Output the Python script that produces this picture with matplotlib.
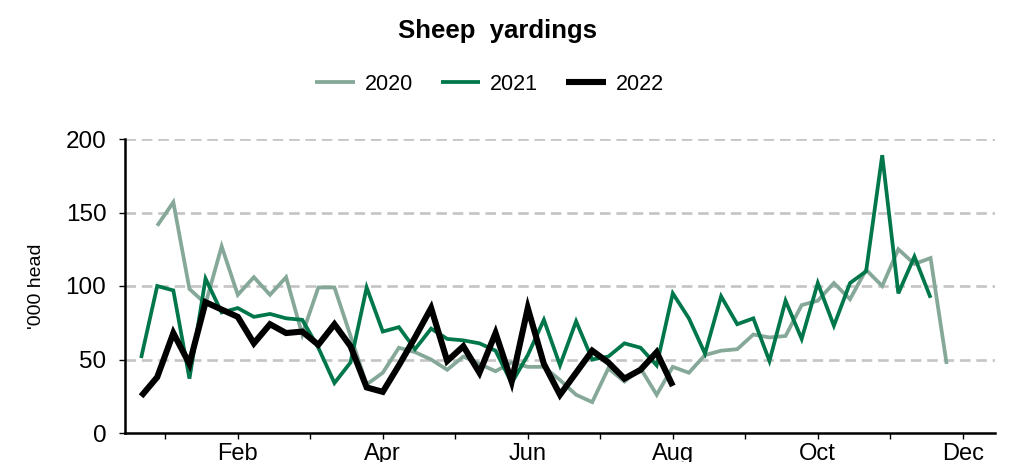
import matplotlib
matplotlib.use("Agg")
import matplotlib.pyplot as plt
import numpy as np

plt.rcParams['font.family'] = ['Liberation Sans', 'DejaVu Sans']

# Weekly sheep yardings ('000 head)
y2020 = [141, 157, 98, 88, 127, 94, 106, 94, 106, 67, 99, 99, 66, 33, 41, 58, 55, 50,
         43, 52, 47, 42, 48, 45, 45, 36, 26, 21, 44, 35, 44, 26, 45, 41, 53, 56, 57,
         67, 65, 66, 87, 90, 102, 91, 111, 100, 125, 115, 119, 47]
y2021 = [51, 100, 97, 37, 105, 82, 85, 79, 81, 78, 77, 58, 34, 48, 99, 69, 72, 57,
         71, 64, 63, 61, 56, 34, 53, 77, 46, 76, 50, 52, 61, 58, 46, 95, 78, 54, 93,
         74, 78, 49, 90, 64, 102, 73, 102, 110, 189, 95, 120, 92]
y2022 = [25, 38, 68, 47, 89, 84, 79, 61, 74, 68, 69, 60, 74, 59, 31, 28, 46, 65, 85,
         49, 59, 41, 68, 35, 85, 47, 26, 41, 56, 48, 37, 43, 55, 32]
start_week = {'2020': 1, '2021': 0, '2022': 0}
month_labels = ['', 'Feb', '', 'Apr', '', 'Jun', '', 'Aug', '', 'Oct', '', 'Dec']
y_ticks = [0, 50, 100, 150, 200]

colors = {'2020': '#85A898', '2021': '#00774A', '2022': '#000000'}
widths = {'2020': 2.7, '2021': 2.7, '2022': 4.4}

fig = plt.figure(figsize=(10.09, 4.62), dpi=100)
ax = fig.add_axes([125/1009, 1-433/462, (995-125)/1009, (433-139)/462])

for name, vals in [('2020', y2020), ('2021', y2021), ('2022', y2022)]:
    x = np.arange(len(vals)) + start_week[name]
    ax.plot(x, vals, color=colors[name], lw=widths[name], label=name,
            solid_joinstyle='miter', solid_capstyle='butt')

ax.set_xlim(-1, 53)
ax.set_ylim(0, 200)
ax.set_yticks(y_ticks)
ax.set_xticks(np.arange(12) * 4.5 + 1.5)
ax.set_xticklabels(month_labels)

ax.yaxis.grid(True, color='#C4C4C4', linestyle=(0, (4.0, 2.2)), linewidth=1.9)
ax.set_axisbelow(True)
gl = ax.yaxis.get_gridlines()
gl[0].set_visible(False)

for s in ['top', 'right']:
    ax.spines[s].set_visible(False)
for s in ['left', 'bottom']:
    ax.spines[s].set_linewidth(1.8)
    ax.spines[s].set_color('black')

ax.tick_params(axis='both', direction='out', length=4.5, width=1.0)
ax.tick_params(axis='y', pad=9, labelsize=17.5)
ax.tick_params(axis='x', pad=3, labelsize=17)

ax.set_ylabel("'000 head", fontsize=14, labelpad=15)

fig.text(0.493, 1-31/462, 'Sheep  yardings', ha='center', va='center',
         fontsize=18.5, fontweight='bold')

leg = fig.legend(loc='center', bbox_to_anchor=(0.485, 1-84/462), ncol=3, frameon=False,
                 fontsize=15.5, handlelength=1.85, handletextpad=0.45, columnspacing=1.3)

fig.savefig('out.png', dpi=100)
